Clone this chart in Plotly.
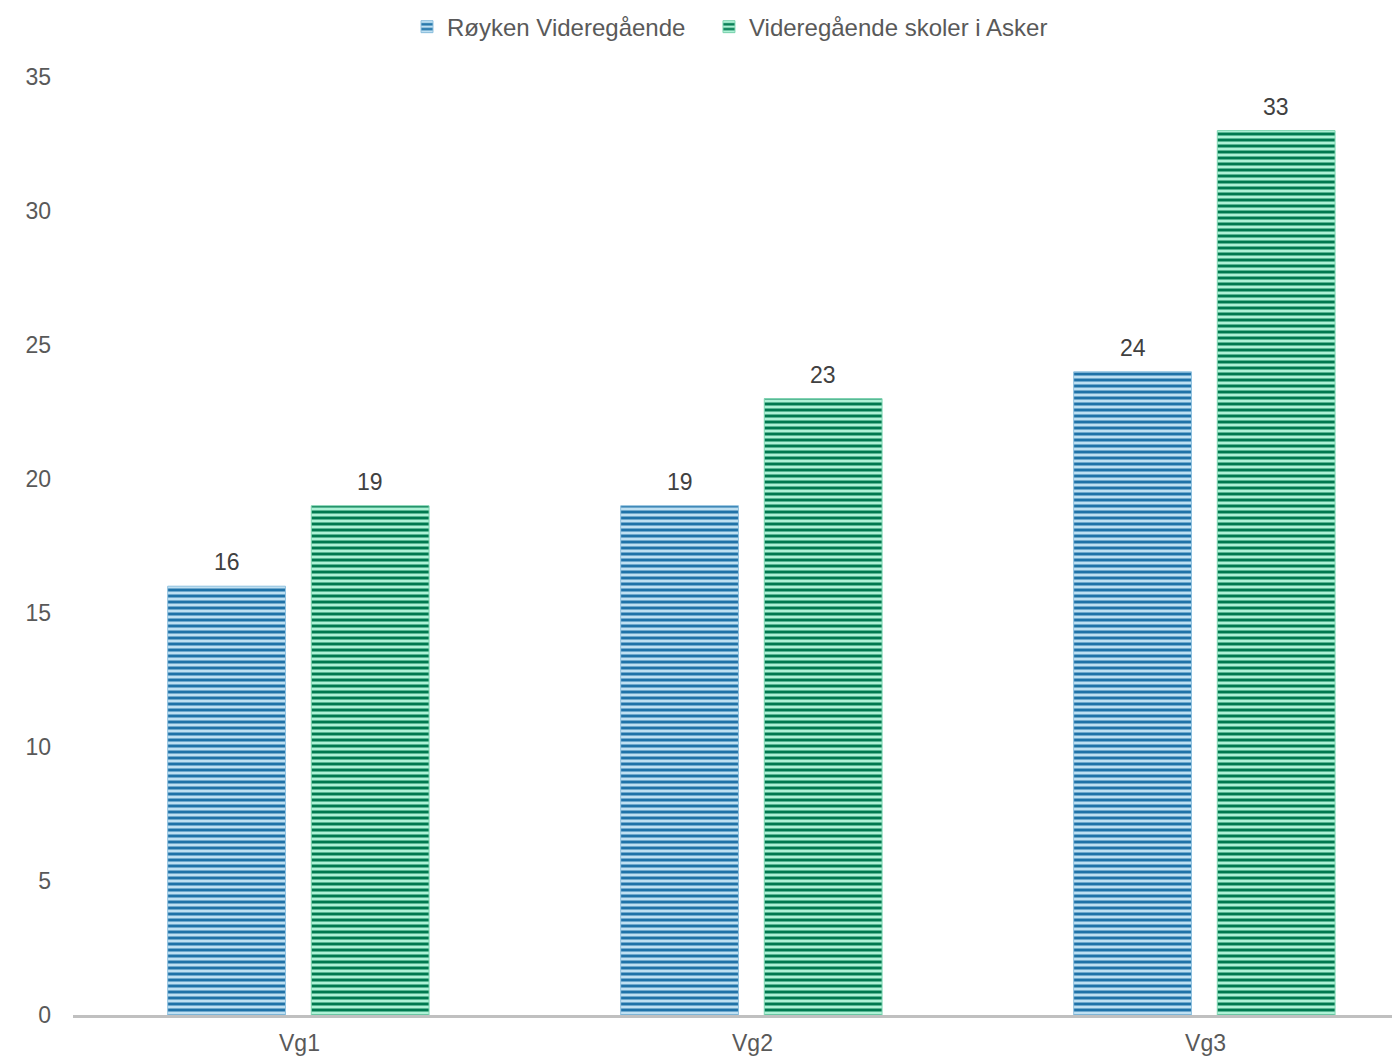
import plotly.graph_objects as go

categories = ["Vg1", "Vg2", "Vg3"]
royken = [16, 19, 24]
asker = [19, 23, 33]
series_names = ["Røyken Videregående", "Videregående skoler i Asker"]
y_ticks = [0, 5, 10, 15, 20, 25, 30, 35]

font_family = "Liberation Sans, Arial, sans-serif"
text_color = "#595959"
label_color = "#404040"

bar_w = 0.26
offsets = [-0.291, 0.026]
px_per_cat = 453

fig = go.Figure()
fig.add_trace(go.Bar(
    x=categories, y=royken, name=series_names[0], legend="legend",
    width=bar_w, offset=offsets[0],
    marker=dict(color="#bfe0f2", line=dict(color="#8fc0de", width=1),
                pattern=dict(shape="-", fgcolor="#1f72a8", bgcolor="#bfe0f2",
                             size=6, solidity=0.5, fillmode="replace")),
))
fig.add_trace(go.Bar(
    x=categories, y=asker, name=series_names[1], legend="legend2",
    width=bar_w, offset=offsets[1],
    marker=dict(color="#aef2d6", line=dict(color="#7fd6b2", width=1),
                pattern=dict(shape="-", fgcolor="#00794f", bgcolor="#aef2d6",
                             size=6, solidity=0.5, fillmode="replace")),
))

for vals, off in zip([royken, asker], offsets):
    for c, v in zip(categories, vals):
        fig.add_annotation(
            x=c, y=v, text=str(v), showarrow=False,
            xanchor="center", yanchor="bottom",
            xshift=(off + bar_w / 2) * px_per_cat, yshift=9,
            font=dict(size=23, color=label_color, family=font_family),
        )

legend_common = dict(orientation="h", xanchor="left", y=0.982, yanchor="middle",
                     xref="container", yref="container",
                     font=dict(size=24, color=text_color))

fig.update_layout(
    width=1400, height=1059,
    margin=dict(l=65, r=0, t=69, b=52),
    paper_bgcolor="white", plot_bgcolor="white",
    font=dict(family=font_family, size=23, color=text_color),
    showlegend=True,
    legend=dict(x=0.285, **legend_common),
    legend2=dict(x=0.5007, **legend_common),
)
fig.update_xaxes(
    type="category", range=[-0.5, 2.447],
    showline=True, linecolor="#c0c0c0", linewidth=3,
    showgrid=False, ticks="", tickfont=dict(size=23, color=text_color),
    ticklabelstandoff=5,
)
fig.update_yaxes(
    range=[0, 35], tickvals=y_ticks, showgrid=False, zeroline=False,
    showline=False, ticks="", tickfont=dict(size=23, color=text_color),
    ticklabelstandoff=21,
)

fig.write_html("out.html")
